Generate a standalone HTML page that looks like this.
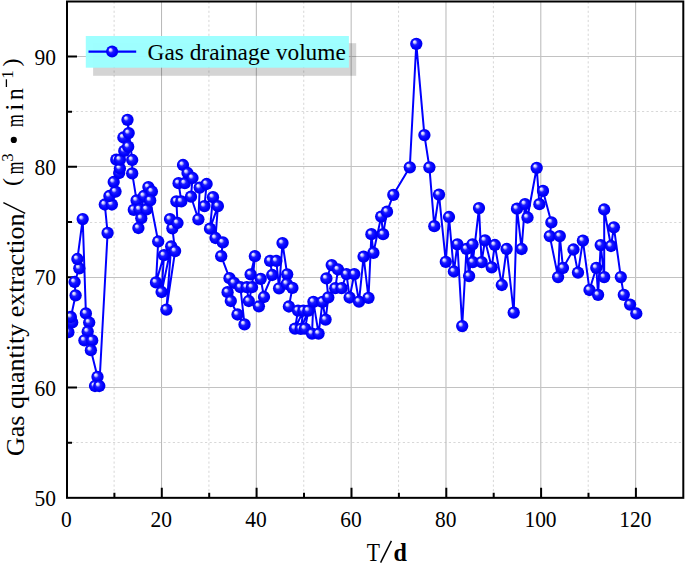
<!DOCTYPE html><html><head><meta charset="utf-8"><style>html,body{margin:0;padding:0;background:#fff;width:685px;height:563px;overflow:hidden}svg{display:block}text{font-family:"Liberation Serif",serif;fill:#000}</style></head><body><svg width="685" height="563" viewBox="0 0 685 563"><defs><radialGradient id="ball" cx="0.5" cy="0.5" r="0.5" fx="0.32" fy="0.31"><stop offset="0" stop-color="#ffffff"/><stop offset="0.2" stop-color="#c4c4ff"/><stop offset="0.42" stop-color="#1c1cff"/><stop offset="0.75" stop-color="#0000ff"/><stop offset="1" stop-color="#0000ea"/></radialGradient><clipPath id="pc"><rect x="67.0" y="1.5" width="616.3" height="496.33"/></clipPath></defs><rect width="685" height="563" fill="#fff"/><line x1="114.11" y1="1.5" x2="114.11" y2="497.83" stroke="#d6d6d6" stroke-width="1" stroke-dasharray="2.2,2.4"/><line x1="208.93" y1="1.5" x2="208.93" y2="497.83" stroke="#d6d6d6" stroke-width="1" stroke-dasharray="2.2,2.4"/><line x1="303.75" y1="1.5" x2="303.75" y2="497.83" stroke="#d6d6d6" stroke-width="1" stroke-dasharray="2.2,2.4"/><line x1="398.57" y1="1.5" x2="398.57" y2="497.83" stroke="#d6d6d6" stroke-width="1" stroke-dasharray="2.2,2.4"/><line x1="493.39" y1="1.5" x2="493.39" y2="497.83" stroke="#d6d6d6" stroke-width="1" stroke-dasharray="2.2,2.4"/><line x1="588.21" y1="1.5" x2="588.21" y2="497.83" stroke="#d6d6d6" stroke-width="1" stroke-dasharray="2.2,2.4"/><line x1="67.0" y1="442.5" x2="683.3" y2="442.5" stroke="#d8d8d8" stroke-width="1" stroke-dasharray="2.2,2.4"/><line x1="67.0" y1="332.5" x2="683.3" y2="332.5" stroke="#d8d8d8" stroke-width="1" stroke-dasharray="2.2,2.4"/><line x1="67.0" y1="222.5" x2="683.3" y2="222.5" stroke="#d8d8d8" stroke-width="1" stroke-dasharray="2.2,2.4"/><line x1="67.0" y1="111.5" x2="683.3" y2="111.5" stroke="#d8d8d8" stroke-width="1" stroke-dasharray="2.2,2.4"/><line x1="161.52" y1="1.5" x2="161.52" y2="497.83" stroke="#bababa" stroke-width="1.05"/><line x1="256.34" y1="1.5" x2="256.34" y2="497.83" stroke="#bababa" stroke-width="1.05"/><line x1="351.16" y1="1.5" x2="351.16" y2="497.83" stroke="#bababa" stroke-width="1.05"/><line x1="445.98" y1="1.5" x2="445.98" y2="497.83" stroke="#bababa" stroke-width="1.05"/><line x1="540.80" y1="1.5" x2="540.80" y2="497.83" stroke="#bababa" stroke-width="1.05"/><line x1="635.62" y1="1.5" x2="635.62" y2="497.83" stroke="#bababa" stroke-width="1.05"/><line x1="67.0" y1="387.5" x2="683.3" y2="387.5" stroke="#c2c2c2" stroke-width="1.1"/><line x1="67.0" y1="277.5" x2="683.3" y2="277.5" stroke="#c2c2c2" stroke-width="1.1"/><line x1="67.0" y1="166.5" x2="683.3" y2="166.5" stroke="#c2c2c2" stroke-width="1.1"/><line x1="67.0" y1="56.5" x2="683.3" y2="56.5" stroke="#c2c2c2" stroke-width="1.1"/><rect x="93.1" y="43.2" width="263.09999999999997" height="32.6" fill="#000" fill-opacity="0.17"/><rect x="85.8" y="36.0" width="263.09999999999997" height="31.700000000000003" fill="#9cffff" fill-opacity="0.97"/><line x1="88.5" y1="51.6" x2="136.2" y2="51.6" stroke="#0000ff" stroke-width="2.4"/><circle cx="112.1" cy="51.6" r="6.0" fill="url(#ball)"/><text x="147.6" y="59.5" font-size="23.8" textLength="198.2" lengthAdjust="spacingAndGlyphs">Gas drainage volume</text><path d="M161.8 497.83V487.83M256.6 497.83V487.83M351.5 497.83V487.83M446.3 497.83V487.83M541.1 497.83V487.83M635.9 497.83V487.83M114.4 497.83V492.83M209.2 497.83V492.83M304.0 497.83V492.83M398.9 497.83V492.83M493.7 497.83V492.83M588.5 497.83V492.83M67.0 387.5H77.0M67.0 277.2H77.0M67.0 166.8H77.0M67.0 56.5H77.0M67.0 442.7H72.0M67.0 332.3H72.0M67.0 222.0H72.0M67.0 111.7H72.0" stroke="#000" stroke-width="2" fill="none"/><g clip-path="url(#pc)"><polyline points="68.4,332.2 72.2,322.4 70.9,317.0 75.6,295.3 74.6,282.0 79.3,268.3 77.4,259.0 82.7,219.1 85.9,313.4 89.2,322.5 87.7,331.5 84.4,340.3 92.2,340.4 90.9,350.2 97.5,376.8 95.0,386.0 99.3,386.0 107.6,232.9 104.8,204.5 111.9,204.5 109.4,196.0 115.5,191.6 113.7,182.0 119.2,173.0 119.9,168.5 116.3,159.7 119.9,159.7 124.3,150.9 123.4,137.5 128.2,146.7 128.7,133.1 127.5,119.8 132.2,160.0 132.2,173.4 136.6,200.4 133.8,209.8 139.5,209.3 141.3,218.2 138.4,228.0 143.9,196.0 146.6,209.3 148.4,187.1 151.9,191.5 150.2,200.4 158.2,241.5 156.0,282.4 164.0,255.2 161.6,292.0 171.2,246.4 166.4,309.6 175.1,251.1 172.4,228.3 170.0,219.1 177.5,223.0 176.4,201.4 181.3,201.4 178.6,183.2 184.8,183.2 183.0,165.0 187.5,173.0 192.5,178.0 191.0,196.7 198.4,219.3 199.7,187.6 206.6,184.0 204.5,206.1 213.0,197.2 210.0,228.7 217.9,206.1 215.5,238.0 222.8,242.4 221.2,256.2 229.5,278.2 234.0,282.8 227.6,292.2 230.8,301.0 237.5,314.5 244.5,324.4 240.4,287.2 246.8,287.2 248.8,301.0 252.0,287.2 254.9,256.2 250.6,274.4 260.7,278.8 264.0,297.0 258.9,306.3 272.2,275.0 270.1,260.9 276.3,260.9 279.1,288.3 282.5,243.1 287.2,274.3 286.8,283.8 292.4,287.9 288.9,306.5 298.0,310.6 295.0,328.6 303.4,310.6 300.8,328.8 308.4,310.6 305.0,328.6 312.0,333.6 313.4,301.8 318.6,333.6 322.5,301.8 325.6,319.6 328.3,297.4 326.4,278.4 331.7,265.1 338.0,269.5 335.3,288.2 341.6,288.2 346.5,274.1 349.6,297.5 354.3,274.1 359.0,301.6 363.6,256.7 368.5,297.8 371.4,234.2 373.4,252.8 381.2,216.6 383.1,234.2 387.0,211.7 393.3,194.8 409.8,167.3 416.3,43.8 424.4,135.1 429.4,167.3 434.3,226.2 439.0,194.6 445.8,261.8 449.0,217.0 453.9,271.5 457.4,244.3 462.2,326.1 466.5,248.9 469.1,276.1 472.5,244.3 472.8,262.1 479.0,208.1 481.6,262.1 485.0,240.3 491.7,267.3 494.8,245.0 501.8,285.0 506.6,249.0 513.7,312.6 517.0,208.7 521.6,249.0 525.0,204.1 527.5,217.5 536.7,167.8 539.4,204.2 543.0,190.9 551.4,222.4 549.8,236.1 558.1,277.1 559.8,236.1 563.0,268.0 573.5,249.5 578.0,272.6 582.9,240.6 589.5,290.0 596.3,267.8 598.1,294.8 600.7,245.1 604.2,277.1 604.2,209.5 611.0,246.0 613.9,227.3 620.8,277.1 623.8,294.8 630.1,304.6 636.3,313.5" fill="none" stroke="#0000ff" stroke-width="2" stroke-linejoin="round"/><circle cx="68.4" cy="332.2" r="6.15" fill="url(#ball)"/><circle cx="72.2" cy="322.4" r="6.15" fill="url(#ball)"/><circle cx="70.9" cy="317.0" r="6.15" fill="url(#ball)"/><circle cx="75.6" cy="295.3" r="6.15" fill="url(#ball)"/><circle cx="74.6" cy="282.0" r="6.15" fill="url(#ball)"/><circle cx="79.3" cy="268.3" r="6.15" fill="url(#ball)"/><circle cx="77.4" cy="259.0" r="6.15" fill="url(#ball)"/><circle cx="82.7" cy="219.1" r="6.15" fill="url(#ball)"/><circle cx="85.9" cy="313.4" r="6.15" fill="url(#ball)"/><circle cx="89.2" cy="322.5" r="6.15" fill="url(#ball)"/><circle cx="87.7" cy="331.5" r="6.15" fill="url(#ball)"/><circle cx="84.4" cy="340.3" r="6.15" fill="url(#ball)"/><circle cx="92.2" cy="340.4" r="6.15" fill="url(#ball)"/><circle cx="90.9" cy="350.2" r="6.15" fill="url(#ball)"/><circle cx="97.5" cy="376.8" r="6.15" fill="url(#ball)"/><circle cx="95.0" cy="386.0" r="6.15" fill="url(#ball)"/><circle cx="99.3" cy="386.0" r="6.15" fill="url(#ball)"/><circle cx="107.6" cy="232.9" r="6.15" fill="url(#ball)"/><circle cx="104.8" cy="204.5" r="6.15" fill="url(#ball)"/><circle cx="111.9" cy="204.5" r="6.15" fill="url(#ball)"/><circle cx="109.4" cy="196.0" r="6.15" fill="url(#ball)"/><circle cx="115.5" cy="191.6" r="6.15" fill="url(#ball)"/><circle cx="113.7" cy="182.0" r="6.15" fill="url(#ball)"/><circle cx="119.2" cy="173.0" r="6.15" fill="url(#ball)"/><circle cx="119.9" cy="168.5" r="6.15" fill="url(#ball)"/><circle cx="116.3" cy="159.7" r="6.15" fill="url(#ball)"/><circle cx="119.9" cy="159.7" r="6.15" fill="url(#ball)"/><circle cx="124.3" cy="150.9" r="6.15" fill="url(#ball)"/><circle cx="123.4" cy="137.5" r="6.15" fill="url(#ball)"/><circle cx="128.2" cy="146.7" r="6.15" fill="url(#ball)"/><circle cx="128.7" cy="133.1" r="6.15" fill="url(#ball)"/><circle cx="127.5" cy="119.8" r="6.15" fill="url(#ball)"/><circle cx="132.2" cy="160.0" r="6.15" fill="url(#ball)"/><circle cx="132.2" cy="173.4" r="6.15" fill="url(#ball)"/><circle cx="136.6" cy="200.4" r="6.15" fill="url(#ball)"/><circle cx="133.8" cy="209.8" r="6.15" fill="url(#ball)"/><circle cx="139.5" cy="209.3" r="6.15" fill="url(#ball)"/><circle cx="141.3" cy="218.2" r="6.15" fill="url(#ball)"/><circle cx="138.4" cy="228.0" r="6.15" fill="url(#ball)"/><circle cx="143.9" cy="196.0" r="6.15" fill="url(#ball)"/><circle cx="146.6" cy="209.3" r="6.15" fill="url(#ball)"/><circle cx="148.4" cy="187.1" r="6.15" fill="url(#ball)"/><circle cx="151.9" cy="191.5" r="6.15" fill="url(#ball)"/><circle cx="150.2" cy="200.4" r="6.15" fill="url(#ball)"/><circle cx="158.2" cy="241.5" r="6.15" fill="url(#ball)"/><circle cx="156.0" cy="282.4" r="6.15" fill="url(#ball)"/><circle cx="164.0" cy="255.2" r="6.15" fill="url(#ball)"/><circle cx="161.6" cy="292.0" r="6.15" fill="url(#ball)"/><circle cx="171.2" cy="246.4" r="6.15" fill="url(#ball)"/><circle cx="166.4" cy="309.6" r="6.15" fill="url(#ball)"/><circle cx="175.1" cy="251.1" r="6.15" fill="url(#ball)"/><circle cx="172.4" cy="228.3" r="6.15" fill="url(#ball)"/><circle cx="170.0" cy="219.1" r="6.15" fill="url(#ball)"/><circle cx="177.5" cy="223.0" r="6.15" fill="url(#ball)"/><circle cx="176.4" cy="201.4" r="6.15" fill="url(#ball)"/><circle cx="181.3" cy="201.4" r="6.15" fill="url(#ball)"/><circle cx="178.6" cy="183.2" r="6.15" fill="url(#ball)"/><circle cx="184.8" cy="183.2" r="6.15" fill="url(#ball)"/><circle cx="183.0" cy="165.0" r="6.15" fill="url(#ball)"/><circle cx="187.5" cy="173.0" r="6.15" fill="url(#ball)"/><circle cx="192.5" cy="178.0" r="6.15" fill="url(#ball)"/><circle cx="191.0" cy="196.7" r="6.15" fill="url(#ball)"/><circle cx="198.4" cy="219.3" r="6.15" fill="url(#ball)"/><circle cx="199.7" cy="187.6" r="6.15" fill="url(#ball)"/><circle cx="206.6" cy="184.0" r="6.15" fill="url(#ball)"/><circle cx="204.5" cy="206.1" r="6.15" fill="url(#ball)"/><circle cx="213.0" cy="197.2" r="6.15" fill="url(#ball)"/><circle cx="210.0" cy="228.7" r="6.15" fill="url(#ball)"/><circle cx="217.9" cy="206.1" r="6.15" fill="url(#ball)"/><circle cx="215.5" cy="238.0" r="6.15" fill="url(#ball)"/><circle cx="222.8" cy="242.4" r="6.15" fill="url(#ball)"/><circle cx="221.2" cy="256.2" r="6.15" fill="url(#ball)"/><circle cx="229.5" cy="278.2" r="6.15" fill="url(#ball)"/><circle cx="234.0" cy="282.8" r="6.15" fill="url(#ball)"/><circle cx="227.6" cy="292.2" r="6.15" fill="url(#ball)"/><circle cx="230.8" cy="301.0" r="6.15" fill="url(#ball)"/><circle cx="237.5" cy="314.5" r="6.15" fill="url(#ball)"/><circle cx="244.5" cy="324.4" r="6.15" fill="url(#ball)"/><circle cx="240.4" cy="287.2" r="6.15" fill="url(#ball)"/><circle cx="246.8" cy="287.2" r="6.15" fill="url(#ball)"/><circle cx="248.8" cy="301.0" r="6.15" fill="url(#ball)"/><circle cx="252.0" cy="287.2" r="6.15" fill="url(#ball)"/><circle cx="254.9" cy="256.2" r="6.15" fill="url(#ball)"/><circle cx="250.6" cy="274.4" r="6.15" fill="url(#ball)"/><circle cx="260.7" cy="278.8" r="6.15" fill="url(#ball)"/><circle cx="264.0" cy="297.0" r="6.15" fill="url(#ball)"/><circle cx="258.9" cy="306.3" r="6.15" fill="url(#ball)"/><circle cx="272.2" cy="275.0" r="6.15" fill="url(#ball)"/><circle cx="270.1" cy="260.9" r="6.15" fill="url(#ball)"/><circle cx="276.3" cy="260.9" r="6.15" fill="url(#ball)"/><circle cx="279.1" cy="288.3" r="6.15" fill="url(#ball)"/><circle cx="282.5" cy="243.1" r="6.15" fill="url(#ball)"/><circle cx="287.2" cy="274.3" r="6.15" fill="url(#ball)"/><circle cx="286.8" cy="283.8" r="6.15" fill="url(#ball)"/><circle cx="292.4" cy="287.9" r="6.15" fill="url(#ball)"/><circle cx="288.9" cy="306.5" r="6.15" fill="url(#ball)"/><circle cx="298.0" cy="310.6" r="6.15" fill="url(#ball)"/><circle cx="295.0" cy="328.6" r="6.15" fill="url(#ball)"/><circle cx="303.4" cy="310.6" r="6.15" fill="url(#ball)"/><circle cx="300.8" cy="328.8" r="6.15" fill="url(#ball)"/><circle cx="308.4" cy="310.6" r="6.15" fill="url(#ball)"/><circle cx="305.0" cy="328.6" r="6.15" fill="url(#ball)"/><circle cx="312.0" cy="333.6" r="6.15" fill="url(#ball)"/><circle cx="313.4" cy="301.8" r="6.15" fill="url(#ball)"/><circle cx="318.6" cy="333.6" r="6.15" fill="url(#ball)"/><circle cx="322.5" cy="301.8" r="6.15" fill="url(#ball)"/><circle cx="325.6" cy="319.6" r="6.15" fill="url(#ball)"/><circle cx="328.3" cy="297.4" r="6.15" fill="url(#ball)"/><circle cx="326.4" cy="278.4" r="6.15" fill="url(#ball)"/><circle cx="331.7" cy="265.1" r="6.15" fill="url(#ball)"/><circle cx="338.0" cy="269.5" r="6.15" fill="url(#ball)"/><circle cx="335.3" cy="288.2" r="6.15" fill="url(#ball)"/><circle cx="341.6" cy="288.2" r="6.15" fill="url(#ball)"/><circle cx="346.5" cy="274.1" r="6.15" fill="url(#ball)"/><circle cx="349.6" cy="297.5" r="6.15" fill="url(#ball)"/><circle cx="354.3" cy="274.1" r="6.15" fill="url(#ball)"/><circle cx="359.0" cy="301.6" r="6.15" fill="url(#ball)"/><circle cx="363.6" cy="256.7" r="6.15" fill="url(#ball)"/><circle cx="368.5" cy="297.8" r="6.15" fill="url(#ball)"/><circle cx="371.4" cy="234.2" r="6.15" fill="url(#ball)"/><circle cx="373.4" cy="252.8" r="6.15" fill="url(#ball)"/><circle cx="381.2" cy="216.6" r="6.15" fill="url(#ball)"/><circle cx="383.1" cy="234.2" r="6.15" fill="url(#ball)"/><circle cx="387.0" cy="211.7" r="6.15" fill="url(#ball)"/><circle cx="393.3" cy="194.8" r="6.15" fill="url(#ball)"/><circle cx="409.8" cy="167.3" r="6.15" fill="url(#ball)"/><circle cx="416.3" cy="43.8" r="6.15" fill="url(#ball)"/><circle cx="424.4" cy="135.1" r="6.15" fill="url(#ball)"/><circle cx="429.4" cy="167.3" r="6.15" fill="url(#ball)"/><circle cx="434.3" cy="226.2" r="6.15" fill="url(#ball)"/><circle cx="439.0" cy="194.6" r="6.15" fill="url(#ball)"/><circle cx="445.8" cy="261.8" r="6.15" fill="url(#ball)"/><circle cx="449.0" cy="217.0" r="6.15" fill="url(#ball)"/><circle cx="453.9" cy="271.5" r="6.15" fill="url(#ball)"/><circle cx="457.4" cy="244.3" r="6.15" fill="url(#ball)"/><circle cx="462.2" cy="326.1" r="6.15" fill="url(#ball)"/><circle cx="466.5" cy="248.9" r="6.15" fill="url(#ball)"/><circle cx="469.1" cy="276.1" r="6.15" fill="url(#ball)"/><circle cx="472.5" cy="244.3" r="6.15" fill="url(#ball)"/><circle cx="472.8" cy="262.1" r="6.15" fill="url(#ball)"/><circle cx="479.0" cy="208.1" r="6.15" fill="url(#ball)"/><circle cx="481.6" cy="262.1" r="6.15" fill="url(#ball)"/><circle cx="485.0" cy="240.3" r="6.15" fill="url(#ball)"/><circle cx="491.7" cy="267.3" r="6.15" fill="url(#ball)"/><circle cx="494.8" cy="245.0" r="6.15" fill="url(#ball)"/><circle cx="501.8" cy="285.0" r="6.15" fill="url(#ball)"/><circle cx="506.6" cy="249.0" r="6.15" fill="url(#ball)"/><circle cx="513.7" cy="312.6" r="6.15" fill="url(#ball)"/><circle cx="517.0" cy="208.7" r="6.15" fill="url(#ball)"/><circle cx="521.6" cy="249.0" r="6.15" fill="url(#ball)"/><circle cx="525.0" cy="204.1" r="6.15" fill="url(#ball)"/><circle cx="527.5" cy="217.5" r="6.15" fill="url(#ball)"/><circle cx="536.7" cy="167.8" r="6.15" fill="url(#ball)"/><circle cx="539.4" cy="204.2" r="6.15" fill="url(#ball)"/><circle cx="543.0" cy="190.9" r="6.15" fill="url(#ball)"/><circle cx="551.4" cy="222.4" r="6.15" fill="url(#ball)"/><circle cx="549.8" cy="236.1" r="6.15" fill="url(#ball)"/><circle cx="558.1" cy="277.1" r="6.15" fill="url(#ball)"/><circle cx="559.8" cy="236.1" r="6.15" fill="url(#ball)"/><circle cx="563.0" cy="268.0" r="6.15" fill="url(#ball)"/><circle cx="573.5" cy="249.5" r="6.15" fill="url(#ball)"/><circle cx="578.0" cy="272.6" r="6.15" fill="url(#ball)"/><circle cx="582.9" cy="240.6" r="6.15" fill="url(#ball)"/><circle cx="589.5" cy="290.0" r="6.15" fill="url(#ball)"/><circle cx="596.3" cy="267.8" r="6.15" fill="url(#ball)"/><circle cx="598.1" cy="294.8" r="6.15" fill="url(#ball)"/><circle cx="600.7" cy="245.1" r="6.15" fill="url(#ball)"/><circle cx="604.2" cy="277.1" r="6.15" fill="url(#ball)"/><circle cx="604.2" cy="209.5" r="6.15" fill="url(#ball)"/><circle cx="611.0" cy="246.0" r="6.15" fill="url(#ball)"/><circle cx="613.9" cy="227.3" r="6.15" fill="url(#ball)"/><circle cx="620.8" cy="277.1" r="6.15" fill="url(#ball)"/><circle cx="623.8" cy="294.8" r="6.15" fill="url(#ball)"/><circle cx="630.1" cy="304.6" r="6.15" fill="url(#ball)"/><circle cx="636.3" cy="313.5" r="6.15" fill="url(#ball)"/></g><rect x="67.0" y="1.5" width="616.3" height="496.33" fill="none" stroke="#000" stroke-width="2"/><text transform="translate(66.4,526.6) scale(0.935,1)" font-size="23" text-anchor="middle">0</text><text transform="translate(161.2,526.6) scale(0.935,1)" font-size="23" text-anchor="middle">20</text><text transform="translate(256.0,526.6) scale(0.935,1)" font-size="23" text-anchor="middle">40</text><text transform="translate(350.9,526.6) scale(0.935,1)" font-size="23" text-anchor="middle">60</text><text transform="translate(445.7,526.6) scale(0.935,1)" font-size="23" text-anchor="middle">80</text><text transform="translate(540.5,526.6) scale(0.935,1)" font-size="23" text-anchor="middle">100</text><text transform="translate(635.3,526.6) scale(0.935,1)" font-size="23" text-anchor="middle">120</text><text transform="translate(56.0,505.8) scale(0.935,1)" font-size="23" text-anchor="end">50</text><text transform="translate(56.0,395.5) scale(0.935,1)" font-size="23" text-anchor="end">60</text><text transform="translate(56.0,285.2) scale(0.935,1)" font-size="23" text-anchor="end">70</text><text transform="translate(56.0,174.8) scale(0.935,1)" font-size="23" text-anchor="end">80</text><text transform="translate(56.0,64.5) scale(0.935,1)" font-size="23" text-anchor="end">90</text><text x="366.8" y="560.6" font-size="26" textLength="13.2" lengthAdjust="spacingAndGlyphs">T</text><line x1="380.6" y1="562.6" x2="391.4" y2="540.8" stroke="#000" stroke-width="1.5"/><text x="393.4" y="560.6" font-size="26" font-weight="bold" textLength="13.4" lengthAdjust="spacingAndGlyphs">d</text><g transform="translate(23.6,456) rotate(-90)"><text x="0" y="0" font-size="26">Gas quantity extraction</text></g><g transform="translate(23.4,0) rotate(-90)"><text x="-182" y="-4" font-size="24" text-anchor="middle">(</text><text x="-174.3" y="0" font-size="26" textLength="12.6" lengthAdjust="spacingAndGlyphs">m</text><text x="-157.6" y="-10.5" font-size="17" text-anchor="middle">3</text><text x="-127" y="0" font-size="26" textLength="12.6" lengthAdjust="spacingAndGlyphs">m</text><text x="-107.2" y="0" font-size="26" text-anchor="middle">i</text><text x="-100" y="0" font-size="26" textLength="11.8" lengthAdjust="spacingAndGlyphs">n</text><text x="-74.5" y="-10.7" font-size="17" text-anchor="middle">1</text><text x="-62.4" y="-4" font-size="24" text-anchor="middle">)</text></g><circle cx="13.8" cy="139.9" r="3.1" fill="#000"/><line x1="3.4" y1="202.6" x2="25.2" y2="213.3" stroke="#000" stroke-width="1.4"/><line x1="6.4" y1="79.3" x2="6.4" y2="87" stroke="#000" stroke-width="1.3"/></svg></body></html>
